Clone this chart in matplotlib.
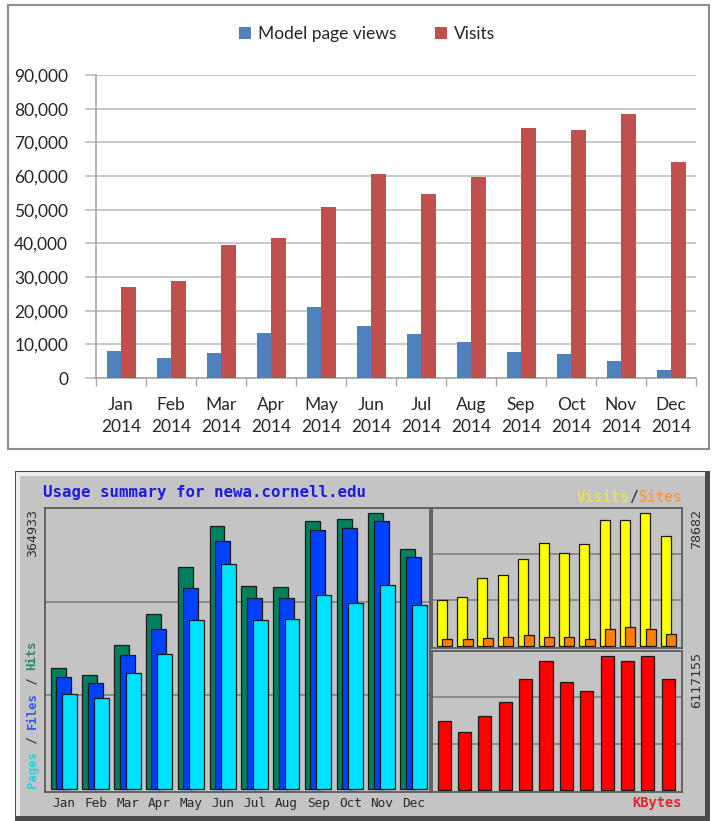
import matplotlib
matplotlib.use('Agg')
import numpy as np
import matplotlib.pyplot as plt
from matplotlib.patches import Rectangle
from matplotlib.ticker import FuncFormatter

# ---- data: Excel chart (top) ----
month_labels = ['Jan\n2014', 'Feb\n2014', 'Mar\n2014', 'Apr\n2014', 'May\n2014', 'Jun\n2014',
                'Jul\n2014', 'Aug\n2014', 'Sep\n2014', 'Oct\n2014', 'Nov\n2014', 'Dec\n2014']
model_views = [8100, 5900, 7300, 13400, 21000, 15400, 13100, 10600, 7600, 7000, 5100, 2500]
visits = [27000, 28800, 39500, 41500, 50700, 60500, 54600, 59800, 74200, 73600, 78400, 64200]

# ---- data: webalizer summary (bottom) ----
months = ['Jan', 'Feb', 'Mar', 'Apr', 'May', 'Jun', 'Jul', 'Aug', 'Sep', 'Oct', 'Nov', 'Dec']
hits = [159300, 150000, 189300, 230900, 293700, 347100, 268400, 266200, 354200, 356000, 364933, 317000]
files = [148100, 139200, 176700, 210500, 265100, 327400, 252100, 252100, 341900, 344100, 354200, 306700]
pages = [124700, 119500, 153300, 178200, 222400, 296600, 222400, 224200, 256500, 245400, 269500, 242400]
wv_visits = [27170, 29140, 40320, 41870, 51340, 61130, 55260, 60150, 74760, 74760, 78682, 64890]
sites = [4130, 4130, 4920, 5510, 6880, 5510, 5510, 4520, 10430, 11410, 10430, 7470]
kbytes = [3135000, 2630000, 3364000, 4007000, 5077000, 5888000, 4924000, 4496000,
          6117155, 5888000, 6095000, 5047000]

W, H, DPI = 713, 821, 100
fig = plt.figure(figsize=(W / DPI, H / DPI), dpi=DPI)
fig.patch.set_facecolor('white')


def box(x0, y0, x1, y1):
    # pixel box (top-left origin) -> figure fraction
    return [x0 / W, 1 - y1 / H, (x1 - x0) / W, (y1 - y0) / H]


def fx(x):
    return x / W


def fy(y):
    return 1 - y / H


def rect(x0, y0, x1, y1, **kw):
    r = Rectangle((fx(x0), fy(y1)), (x1 - x0) / W, (y1 - y0) / H,
                  transform=fig.transFigure, zorder=-10, **kw)
    fig.patches.append(r)


# ================= top: Excel chart =================
rect(8, 5, 709, 449, facecolor='white', edgecolor='#8c8c8c', lw=1.5)

xl = 'Lato'
ax = fig.add_axes(box(96, 75, 696, 378))
x = np.arange(len(visits))
bw = 0.29
ax.bar(x - bw / 2, model_views, bw, color='#4f81bd', label='Model page views', zorder=3)
ax.bar(x + bw / 2, visits, bw, color='#c0504d', label='Visits', zorder=3)
ax.set_xlim(-0.5, 11.5)
ax.set_ylim(0, 90000)
ax.set_yticks(np.arange(0, 90001, 10000))
ax.yaxis.set_major_formatter(FuncFormatter(lambda v, p: f'{int(v):,}'))
ax.grid(axis='y', color='#c4c4c4', lw=1.3, zorder=0)
ax.set_xticks(x)
ax.set_xticklabels(month_labels, linespacing=1.45)
ax.set_xticks(np.arange(-0.5, 12, 1), minor=True)
ax.tick_params(axis='x', which='major', length=0, pad=14)
ax.tick_params(axis='x', which='minor', length=6, color='#a8a8a8', width=1)
ax.tick_params(axis='y', length=8, color='#c4c4c4', width=1.3, pad=12)
for lab in ax.get_xticklabels() + ax.get_yticklabels():
    lab.set_fontfamily(xl)
    lab.set_fontsize(12.5)
    lab.set_color('#262626')
for s in ['top', 'right']:
    ax.spines[s].set_visible(False)
ax.spines['left'].set_color('#a8a8a8')
ax.spines['bottom'].set_color('#a8a8a8')
ax.spines['left'].set_linewidth(1.2)
ax.spines['bottom'].set_linewidth(1.2)
ax.set_facecolor('none')
fig.legend(loc='center', bbox_to_anchor=(fx(367), fy(34)), ncol=2, frameon=False,
           prop={'family': xl, 'size': 12.5}, handlelength=0.7, handleheight=0.7,
           handletextpad=0.4, columnspacing=2.2, labelcolor='#262626')

# ================= bottom: webalizer panel =================
rect(15, 471, 710, 821, facecolor='#4a4a4a', edgecolor='none')
rect(16, 472, 705, 816, facecolor='#eeeeee', edgecolor='none')
rect(20, 476, 705, 816, facecolor='#c4c4c4', edgecolor='none')

mono = 'DejaVu Sans Mono'
grid_c = '#7c7c7c'
edge_c = '#1a1a1a'


def panel(b, xlim, top):
    a = fig.add_axes(b)
    a.set_facecolor('#c4c4c4')
    a.set_xlim(*xlim)
    a.set_ylim(-0.012 * top, top)
    a.set_yticks([top / 3, 2 * top / 3])
    a.grid(axis='y', color=grid_c, lw=1.1, zorder=0)
    a.tick_params(left=False, bottom=False, labelleft=False, labelbottom=False)
    for s in a.spines.values():
        s.set_color('#5a5a5a')
        s.set_linewidth(1.3)
    return a


# left: hits / files / pages
al = panel(box(45, 508, 430, 792), (-0.41, 11.70), max(hits) * 1.017)
bwl = 0.47
al.bar(x, hits, bwl, color='#00805c', edgecolor=edge_c, lw=0.9, zorder=3)
al.bar(x + 0.173, files, bwl, color='#0040ff', edgecolor=edge_c, lw=0.9, zorder=4)
al.bar(x + 0.36, pages, bwl, color='#00e0ff', edgecolor=edge_c, lw=0.9, zorder=5)

# right top: visits / sites
art = panel(box(432, 508, 682, 648), (-0.476, 11.80), max(wv_visits) * 1.037)
art.bar(x, wv_visits, 0.49, color='#ffff00', edgecolor=edge_c, lw=0.9, zorder=3)
art.bar(x + 0.27, sites, 0.49, color='#ff8000', edgecolor=edge_c, lw=0.9, zorder=4)

# right bottom: kbytes
arb = panel(box(432, 651, 682, 792), (-0.59, 11.67), max(kbytes) * 1.035)
arb.bar(x, kbytes, 0.64, color='#ff0000', edgecolor=edge_c, lw=0.9, zorder=3)

# month labels under left chart
for i, m in enumerate(months):
    xp = 58 + 31.8 * i + 6
    fig.text(fx(xp), fy(803), m, family=mono, size=9.2, color='#2a2a2a',
             ha='center', va='center')


def cw(size):
    return size * DPI / 72 * 0.602


def parts_h(x_right, y, parts, size):
    n = sum(len(s) for s, c in parts)
    xs = x_right - n * cw(size)
    for s, c in parts:
        fig.text(fx(xs), fy(y), s, family=mono, size=size, weight='bold', color=c,
                 ha='left', va='center')
        xs += len(s) * cw(size)


def parts_v(xc, y_bottom, parts, size):
    ys = y_bottom
    for s, c in parts:
        fig.text(fx(xc), fy(ys), s, family=mono, size=size, weight='bold', color=c,
                 ha='left', va='center', rotation=90, rotation_mode='anchor')
        ys -= len(s) * cw(size)


fig.text(fx(43), fy(493), 'Usage summary for newa.cornell.edu', family=mono, size=11.3,
         weight='bold', color='#1c1ce0', ha='left', va='center')
parts_h(682, 497, [('Visits', '#e8e060'), ('/', '#3a3a3a'), ('Sites', '#f0a050')], 10.5)
fig.text(fx(682), fy(803), 'KBytes', family=mono, size=9.8, weight='bold',
         color='#e02828', ha='right', va='center')
parts_v(32, 788, [('Pages', '#20d4dc'), (' / ', '#3a3a3a'), ('Files', '#3058f0'),
                  (' / ', '#3a3a3a'), ('Hits', '#2c8a6c')], 8.8)

fig.text(fx(33), fy(509), '364933', family=mono, size=9.6, color='#303030',
         ha='right', va='center', rotation=90, rotation_mode='anchor')
fig.text(fx(697), fy(509), '78682', family=mono, size=9.6, color='#303030',
         ha='right', va='center', rotation=90, rotation_mode='anchor')
fig.text(fx(697), fy(652), '6117155', family=mono, size=9.6, color='#303030',
         ha='right', va='center', rotation=90, rotation_mode='anchor')

fig.savefig('out.png', dpi=DPI)
